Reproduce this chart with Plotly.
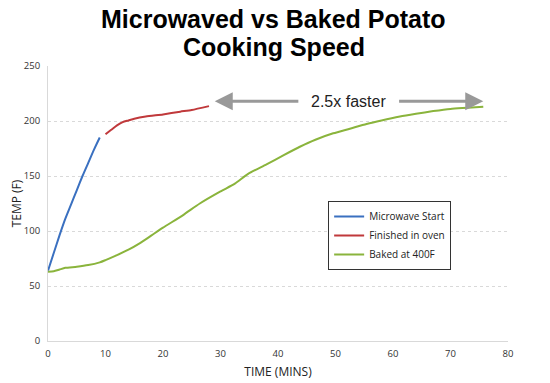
import plotly.graph_objects as go

# Data
micro_x = [0, 1, 2, 3, 4, 5, 6, 7, 8, 9]
micro_y = [64, 80, 96, 111, 124, 137, 150, 162, 174, 185]

oven_x = [10, 11, 12, 13, 14, 15, 17, 20, 23, 25, 28]
oven_y = [188, 192, 196, 199, 200.5, 202, 204, 206, 208.5, 210, 213.5]

baked_x = [0, 1, 2, 3, 5, 7, 9, 10, 12, 14, 16, 18, 20, 23.5, 26.4, 30, 32.5, 34.8, 38, 41, 43.8, 46.5, 49.6, 52.5, 55.4, 58, 61.2, 64, 67, 70, 73, 75.7]
baked_y = [63, 63.5, 65, 66.5, 67.5, 69, 71.5, 73.5, 78, 83, 89, 96, 103, 114.5, 125, 136, 143, 152, 160.5, 169, 176.6, 183, 188.8, 193, 197.3, 200.5, 204, 206.5, 209, 211, 212, 213]

names = ["Microwave Start", "Finished in oven", "Baked at 400F"]
colors = ["#3a70c0", "#c0393b", "#8ab43c"]

x_ticks = [0, 10, 20, 30, 40, 50, 60, 70, 80]
y_ticks = [0, 50, 100, 150, 200, 250]

title_lines = ["Microwaved vs Baked Potato", "Cooking Speed"]

arrow_y = 218
arrow_left = [29, 43.8]
arrow_right = [60.8, 75.7]
arrow_text_x = 52.3

fig = go.Figure()
for xs, ys, n, c in zip([micro_x, oven_x, baked_x], [micro_y, oven_y, baked_y], names, colors):
    fig.add_trace(go.Scatter(x=xs, y=ys, name=n, mode="lines",
                             line=dict(color=c, width=2, shape="spline", smoothing=0.6)))

# Arrows
fig.add_annotation(x=arrow_left[0], y=arrow_y, ax=arrow_left[1], ay=arrow_y,
                   xref="x", yref="y", axref="x", ayref="y", text="",
                   showarrow=True, arrowhead=2, arrowsize=1.2, arrowwidth=3, arrowcolor="#999999")
fig.add_annotation(x=arrow_right[1], y=arrow_y, ax=arrow_right[0], ay=arrow_y,
                   xref="x", yref="y", axref="x", ayref="y", text="",
                   showarrow=True, arrowhead=2, arrowsize=1.2, arrowwidth=3, arrowcolor="#999999")
fig.add_annotation(x=arrow_text_x, y=arrow_y, xref="x", yref="y", text="2.5x faster",
                   showarrow=False, font=dict(family="Liberation Sans, Arial", size=16, color="#222222"))

# Title, one annotation per line for tight line spacing
for line, ypos in zip(title_lines, [1.171, 1.069]):
    fig.add_annotation(x=0.491, y=ypos, xref="paper", yref="paper", xanchor="center",
                       yanchor="middle", showarrow=False, text="<b>" + line + "</b>",
                       font=dict(family="Liberation Sans, Arial", size=25, color="black"))

# page body has an 8px margin, so the figure is sized/margined to compensate
fig.update_layout(
    width=542, height=375,
    margin=dict(l=40, r=42, t=58, b=42),
    paper_bgcolor="white", plot_bgcolor="white",
    font=dict(family="Open Sans, Liberation Sans", size=10, color="#333333"),
    xaxis=dict(range=[0, 80], tickvals=x_ticks, showgrid=False, showline=True,
               linecolor="#d9d9d9", linewidth=1, ticks="", zeroline=False, automargin=False,
               ticklabelstandoff=4,
               title=dict(text="TIME (MINS)", font=dict(size=12, color="#222222"), standoff=8),
               tickfont=dict(size=9.5)),
    yaxis=dict(range=[0, 250], tickvals=y_ticks, showgrid=True, gridcolor="#d9d9d9",
               griddash="dot", showline=True, linecolor="#d9d9d9", linewidth=1, ticks="",
               zeroline=False, automargin=False, ticklabelstandoff=5,
               title=dict(text="TEMP (F)", font=dict(size=12, color="#222222"), standoff=4),
               tickfont=dict(size=9.5)),
    legend=dict(x=0.609, y=0.509, xanchor="left", yanchor="top",
                bordercolor="#333333", borderwidth=1, bgcolor="white",
                font=dict(size=10, color="#222222"), tracegroupgap=2,
                itemwidth=30),
    showlegend=True,
)

fig.write_html("out.html")
